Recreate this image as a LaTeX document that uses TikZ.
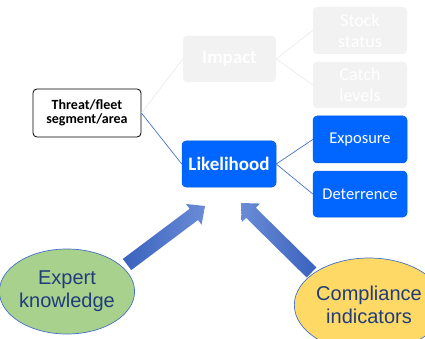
\documentclass[tikz,border=0pt]{standalone}
\usepackage{fontspec}
\setmainfont{Carlito}
\newfontfamily\arialf{Liberation Sans}
\usetikzlibrary{calc,shapes.geometric}
\definecolor{bblue}{HTML}{0066FF}
\definecolor{bblueline}{HTML}{005BE6}
\definecolor{lnblue}{HTML}{4472C4}
\definecolor{ghost}{HTML}{F2F2F2}
\definecolor{ghostline}{HTML}{EBEBEB}
\definecolor{egreen}{HTML}{A9D18E}
\definecolor{cyellow}{HTML}{FFD966}
\definecolor{etext}{HTML}{1F3D7A}
\definecolor{adark}{HTML}{3A62BE}
\definecolor{alight}{HTML}{6A8CD6}
\tikzset{
  boxbase/.style={rectangle, rounded corners=4pt, align=center, inner sep=0pt},
  threatbox/.style={boxbase, draw=black, line width=0.8pt, fill=white, minimum width=108pt, minimum height=48pt, font=\fontsize{14}{14.5}\selectfont\bfseries},
  bluebox/.style={boxbase, draw=bblueline, line width=0.5pt, fill=bblue, text=white, minimum width=94pt, minimum height=46pt},
  ghostbox/.style={boxbase, fill=ghost, text=white, minimum width=94pt, minimum height=46pt},
  bigbold/.style={font=\fontsize{19}{21}\selectfont\bfseries},
  midtext/.style={font=\fontsize{16.5}{19}\selectfont},
  ghosttext/.style={font=\fontsize{18}{21}\selectfont},
  bluelink/.style={draw=lnblue, line width=0.7pt},
  ghostlink/.style={draw=ghostline, line width=0.7pt},
  srcell/.style={ellipse, draw=lnblue, line width=0.7pt, text=etext, align=center, inner sep=0pt, font=\arialf\fontsize{20}{23}\selectfont},
}
\newcommand{\blockarrow}[3]{%
  \coordinate (#1hb) at ($(#3)!14pt!(#2)$);
  \shade[left color=#1L, right color=#1R]
    ($(#2)!7pt!90:(#3)$) -- ($(#1hb)!7pt!-90:(#2)$) -- ($(#1hb)!13pt!-90:(#2)$) -- (#3)
    -- ($(#1hb)!13pt!90:(#2)$) -- ($(#1hb)!7pt!90:(#2)$) -- ($(#2)!7pt!-90:(#3)$) -- cycle;
}
\colorlet{aoneL}{adark}\colorlet{aoneR}{alight}
\colorlet{atwoL}{alight}\colorlet{atwoR}{adark}
\begin{document}
\begin{tikzpicture}[x=1pt,y=-1pt]
\useasboundingbox (0,0) rectangle (425,339);
% nodes
\node[threatbox] (threat) at (87,113) {Threat/fleet\\segment/area};
\node[ghostbox, bigbold, minimum width=93pt] (impact) at (229.5,59) {Impact};
\node[ghostbox, ghosttext, minimum height=47pt] (stock) at (360,30.5) {Stock\\status};
\node[ghostbox, ghosttext] (catch) at (360,85) {Catch\\levels};
\node[bluebox, bigbold] (like) at (229,164) {Likelihood};
\node[bluebox, midtext, minimum height=47pt] (expo) at (360,139.5) {Exposure};
\node[bluebox, midtext] (deter) at (360,194) {Deterrence};
\node[srcell, fill=egreen, minimum width=118pt, minimum height=85pt] (expert) at (67,291.5) {Expert\\knowledge};
\node[srcell, fill=cyellow, minimum width=116pt, minimum height=94pt] (compl) at (369,305) {Compliance\\indicators};
% connectors
\draw[ghostlink] (threat.east) -- (impact.west);
\draw[ghostlink] (impact.east) -- (stock.west);
\draw[ghostlink] (impact.east) -- (catch.west);
\draw[bluelink] (threat.east) -- (like.west);
\draw[bluelink] (like.east) -- (expo.west);
\draw[bluelink] (like.east) -- (deter.west);
% block arrows
\coordinate (aonet) at (127,264.5);
\coordinate (aoneh) at (205,206);
\coordinate (atwot) at (311.5,272.5);
\coordinate (atwoh) at (241,203);
\blockarrow{aone}{aonet}{aoneh}
\blockarrow{atwo}{atwot}{atwoh}
\end{tikzpicture}
\end{document}
